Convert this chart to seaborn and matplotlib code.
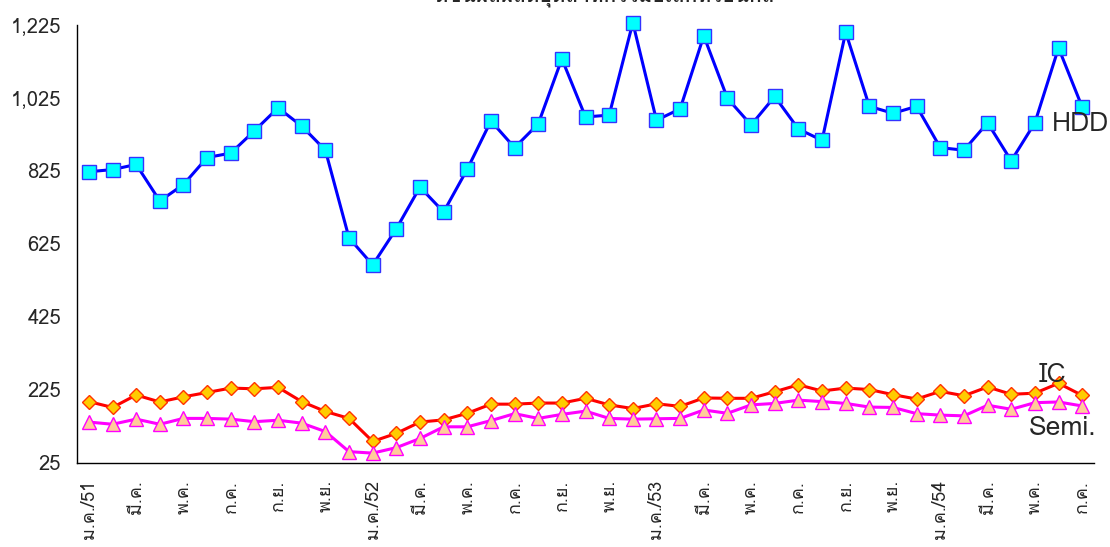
import matplotlib
matplotlib.use("Agg")
import numpy as np
import pandas as pd
import matplotlib.pyplot as plt
import seaborn as sns
from matplotlib.ticker import FuncFormatter

# Thai month abbreviations, Jan 2551 (2008) to Jul 2554 (2011)
thai_months = ["ม.ค.", "ก.พ.", "มี.ค.", "เม.ย.", "พ.ค.", "มิ.ย.",
               "ก.ค.", "ส.ค.", "ก.ย.", "ต.ค.", "พ.ย.", "ธ.ค."]
years = [51, 52, 53, 54]

month_labels = []
for y in years:
    for i, m in enumerate(thai_months):
        month_labels.append(m + "/" + str(y) if i == 0 else m)
month_labels = month_labels[:43]

hdd = [822, 828, 842, 742, 787, 861, 873, 934, 997, 947,
       881, 641, 567, 666, 780, 712, 829, 961, 888, 953,
       1131, 972, 977, 1230, 963, 994, 1194, 1023, 950, 1028,
       939, 908, 1204, 1001, 982, 1001, 888, 881, 956, 852,
       956, 1161, 999]
ic = [193, 177, 211, 192, 206, 218, 230, 228, 232, 193,
      166, 147, 84, 106, 137, 143, 161, 186, 186, 189,
      189, 202, 184, 174, 187, 180, 203, 202, 202, 220,
      239, 222, 230, 226, 212, 200, 221, 209, 233, 213,
      216, 243, 210]
semi = [137, 131, 145, 131, 147, 147, 145, 138, 142, 134,
        111, 56, 52, 67, 92, 124, 124, 141, 160, 147,
        158, 167, 147, 145, 146, 147, 170, 161, 184, 188,
        197, 193, 188, 178, 177, 160, 156, 154, 183, 172,
        190, 192, 181]

title = "ดัชนีผลผลิตอุตสาหกรรมอิเล็กทรอนิกส์"

df = pd.DataFrame({"pos": np.arange(len(month_labels)), "HDD": hdd, "IC": ic, "Semi.": semi})

sns.set_style("white")
plt.rcParams["font.family"] = ["Loma", "DejaVu Sans"]

fig, ax = plt.subplots(figsize=(11.1, 5.47), dpi=100)
fig.subplots_adjust(left=0.0694, right=0.9856, bottom=0.1536, top=0.9552)

# HDD
sns.lineplot(data=df, x="pos", y="HDD", ax=ax, color="#0000FF", linewidth=2.2,
             marker="s", markersize=9.5, markerfacecolor="#00FFFF",
             markeredgecolor="#3333FF", markeredgewidth=1, clip_on=False)
# IC
sns.lineplot(data=df, x="pos", y="IC", ax=ax, color="#FF0000", linewidth=2.2,
             marker="D", markersize=7.5, markerfacecolor="#FFCC00",
             markeredgecolor="#FF3300", markeredgewidth=1, clip_on=False)
# Semi.
sns.lineplot(data=df, x="pos", y="Semi.", ax=ax, color="#FF00FF", linewidth=2.2,
             marker="^", markersize=10, markerfacecolor="#FFCC99",
             markeredgecolor="#FF00FF", markeredgewidth=1, clip_on=False)

ax.set_xlim(-0.5, len(month_labels) - 0.5)
ax.set_ylim(25, 1225)
ax.set_yticks(range(25, 1226, 200))
ax.yaxis.set_major_formatter(FuncFormatter(lambda v, p: f"{int(v):,}"))

ax.set_xticks(range(0, len(month_labels), 2))
ax.set_xticklabels(month_labels[::2], rotation=90, va="top", ha="center")
ax.set_xticks(np.arange(-0.5, len(month_labels), 1), minor=True)

ax.tick_params(axis="x", which="major", length=0, pad=12, labelsize=13)
ax.tick_params(axis="x", which="minor", length=5, width=1, direction="out", color="black")
ax.tick_params(axis="y", length=4.5, width=1, direction="out", pad=7, labelsize=14.5, color="black")

ax.set_xlabel("")
ax.set_ylabel("")
sns.despine(ax=ax)
for side in ["left", "bottom"]:
    ax.spines[side].set_color("black")
    ax.spines[side].set_linewidth(1)

# series names next to the line ends
ax.text(41.93, 952, "HDD", fontsize=19, ha="center", va="center")
ax.text(40.74, 265, "IC", fontsize=19, ha="center", va="center")
ax.text(41.17, 120, "Semi.", fontsize=19, ha="center", va="center")

# the title sits mostly above the top edge, as in the source image
fig.text(0.5446, 0.985, title, ha="center", va="bottom", fontsize=15, fontweight="bold")

fig.savefig("out.png", dpi=100)
plt.close()
